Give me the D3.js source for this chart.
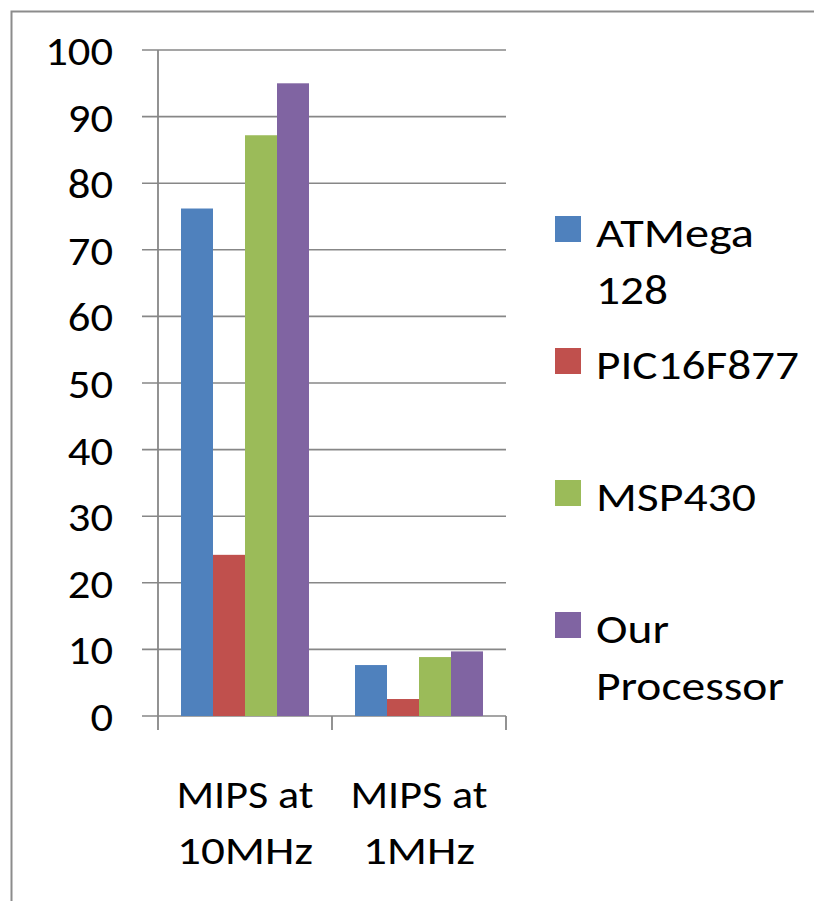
<!DOCTYPE html>
<html>
<head>
<meta charset="utf-8">
<script src="https://cdn.jsdelivr.net/npm/d3@7"></script>
<style>
  html, body { margin: 0; padding: 0; background: #fff; }
  svg { display: block; }
  text { font-family: Carlito, Calibri, Lato, "Open Sans", sans-serif; fill: #000; }
</style>
</head>
<body>
<svg id="chart" width="814" height="901"></svg>
<script>
// Benchmark: MIPS of four microcontrollers at two clock rates
const categories = ["MIPS at 10MHz", "MIPS at 1MHz"];
const seriesNames = ["ATMega 128", "PIC16F877", "MSP430", "Our Processor"];
const atmega = [76.2, 7.65];
const pic = [24.2, 2.55];
const msp = [87.2, 8.85];
const ours = [95.0, 9.7];
const yTicks = [0, 10, 20, 30, 40, 50, 60, 70, 80, 90, 100];
const colors = ["#4F81BD", "#C0504D", "#9BBB59", "#8064A2"];

const seriesValues = [atmega, pic, msp, ours];

const svg = d3.select("#chart");

// outer chart frame (runs past the right and bottom edges)
svg.append("rect")
  .attr("x", 11.5).attr("y", 11.5)
  .attr("width", 900).attr("height", 1000)
  .attr("fill", "none")
  .attr("stroke", "#8c8c8c")
  .attr("stroke-width", 2);

const plot = { left: 158, right: 506, top: 50, bottom: 716 };

const y = d3.scaleLinear().domain([0, 100]).range([plot.bottom, plot.top]);
const x0 = d3.scaleBand().domain(categories).range([plot.left, plot.right]).padding(0);
const x1 = d3.scaleBand().domain(seriesNames).range([23, x0.bandwidth() - 23]).padding(0);

// horizontal gridlines
svg.append("g")
  .selectAll("line")
  .data(yTicks)
  .join("line")
  .attr("x1", plot.left - 16).attr("x2", plot.right)
  .attr("y1", d => y(d)).attr("y2", d => y(d))
  .attr("stroke", "#878787")
  .attr("stroke-width", 1.6);

// bars
const groups = svg.append("g")
  .selectAll("g")
  .data(categories)
  .join("g")
  .attr("transform", d => `translate(${x0(d)},0)`);

groups.selectAll("rect")
  .data((c, ci) => seriesNames.map((s, si) => ({ s, si, v: seriesValues[si][ci] })))
  .join("rect")
  .attr("x", d => x1(d.s))
  .attr("width", x1.bandwidth())
  .attr("y", d => y(d.v))
  .attr("height", d => y(0) - y(d.v))
  .attr("fill", d => colors[d.si]);

// y axis with labels
const yAxis = d3.axisLeft(y).tickValues(yTicks).tickSize(0).tickPadding(45);
const gy = svg.append("g").attr("transform", `translate(${plot.left},0)`).call(yAxis);
gy.select(".domain").remove();
gy.selectAll("text")
  .attr("font-size", 40)
  .attr("dy", 14.5)
  .attr("textLength", d => String(d).length * 22.6)
  .attr("lengthAdjust", "spacingAndGlyphs")
  .style("font-family", "Carlito, Calibri, Lato, sans-serif")
  .attr("fill", "#000");

svg.append("line")
  .attr("x1", plot.left).attr("x2", plot.left)
  .attr("y1", plot.top).attr("y2", plot.bottom + 14)
  .attr("stroke", "#878787").attr("stroke-width", 1.8);

// category divider ticks
const bounds = [plot.left, ...categories.map(c => x0(c) + x0.bandwidth())];
svg.append("g")
  .selectAll("line")
  .data(bounds.slice(1))
  .join("line")
  .attr("x1", d => d).attr("x2", d => d)
  .attr("y1", plot.bottom).attr("y2", plot.bottom + 14)
  .attr("stroke", "#878787").attr("stroke-width", 1.8);

// category labels, two lines each
const catLabelWidths = { "MIPS at": 137, "10MHz": 136, "1MHz": 112 };
categories.forEach(c => {
  const cut = c.lastIndexOf(" ");
  const lines = [c.slice(0, cut), c.slice(cut + 1)];
  const cx = x0(c) + x0.bandwidth() / 2;
  lines.forEach((ln, i) => {
    svg.append("text")
      .attr("x", cx)
      .attr("y", 808 + i * 56)
      .attr("text-anchor", "middle")
      .attr("font-size", 38)
      .attr("textLength", catLabelWidths[ln])
      .attr("lengthAdjust", "spacingAndGlyphs")
      .text(ln);
  });
});

// legend
const legendWidths = { "ATMega": 158, "128": 72, "PIC16F877": 203, "MSP430": 160, "Our": 73, "Processor": 188 };
const legend = svg.append("g")
  .selectAll("g")
  .data(seriesNames)
  .join("g")
  .attr("transform", (d, i) => `translate(555,${216 + i * 132})`);

legend.append("rect")
  .attr("width", 26).attr("height", 26)
  .attr("fill", (d, i) => colors[i]);

legend.each(function(name) {
  const g = d3.select(this);
  name.split(" ").forEach((w, i) => {
    g.append("text")
      .attr("x", 41)
      .attr("y", 30.7 + i * 57)
      .attr("font-size", 40)
      .attr("textLength", legendWidths[w])
      .attr("lengthAdjust", "spacingAndGlyphs")
      .text(w);
  });
});
</script>
</body>
</html>
